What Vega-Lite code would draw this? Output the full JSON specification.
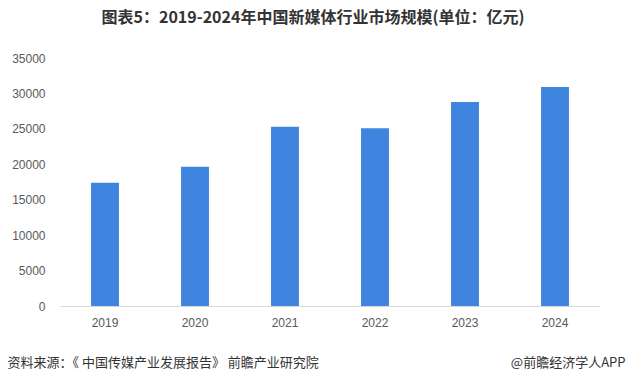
{
  "$schema": "https://vega.github.io/schema/vega-lite/v6.json",
  "width": 540,
  "height": 248,
  "autosize": "none",
  "padding": {"left": 60, "top": 58, "right": 26, "bottom": 76},
  "background": "white",
  "title": {
    "text": "图表5：2019-2024年中国新媒体行业市场规模(单位：亿元)",
    "font": "Noto Sans CJK SC",
    "fontSize": 16,
    "fontWeight": "bold",
    "color": "#333333",
    "anchor": "middle",
    "frame": "group",
    "offset": 26,
    "dx": -17
  },
  "data": {
    "values": [
      {"year": "2019", "value": 17400},
      {"year": "2020", "value": 19650},
      {"year": "2021", "value": 25300},
      {"year": "2022", "value": 25100},
      {"year": "2023", "value": 28800},
      {"year": "2024", "value": 30900}
    ]
  },
  "config": {
    "view": {"stroke": null},
    "font": "Noto Sans CJK SC"
  },
  "resolve": {"axis": {"x": "independent"}},
  "layer": [
    {
      "mark": {"type": "bar", "color": "#3f84df"},
      "encoding": {
        "x": {
          "field": "year",
          "type": "nominal",
          "scale": {"paddingInner": 0.69, "paddingOuter": 0.345},
          "axis": {
            "orient": "bottom",
            "title": "资料来源：《 中国传媒产业发展报告》 前瞻产业研究院",
            "titleFont": "Noto Sans CJK SC",
            "titleFontSize": 13,
            "titleFontWeight": "normal",
            "titleColor": "#333333",
            "titleAnchor": "start",
            "titleAlign": "left",
            "titleBaseline": "alphabetic",
            "titleX": -53,
            "titleY": 60,
            "labelAngle": 0,
            "labelFont": "Liberation Sans",
            "labelFontSize": 12,
            "labelColor": "#595959",
            "labelPadding": 11,
            "ticks": false,
            "domainColor": "#d9d9d9",
            "grid": false
          }
        },
        "y": {
          "field": "value",
          "type": "quantitative",
          "scale": {"domain": [0, 35000], "nice": false},
          "axis": {
            "title": null,
            "values": [0, 5000, 10000, 15000, 20000, 25000, 30000, 35000],
            "format": "d",
            "labelOverlap": false,
            "labelFont": "Liberation Sans",
            "labelFontSize": 12,
            "labelColor": "#595959",
            "labelPadding": 15,
            "ticks": false,
            "domain": false,
            "grid": false
          }
        }
      }
    },
    {
      "mark": {"type": "bar", "opacity": 0},
      "encoding": {
        "x": {
          "field": "year",
          "type": "nominal",
          "axis": {
            "orient": "bottom",
            "title": "@前瞻经济学人APP",
            "titleFont": "Noto Sans CJK SC",
            "titleFontSize": 13,
            "titleFontWeight": "normal",
            "titleColor": "#333333",
            "titleAnchor": "end",
            "titleAlign": "right",
            "titleBaseline": "alphabetic",
            "titleX": 565,
            "titleY": 60,
            "labels": false,
            "ticks": false,
            "domain": false,
            "grid": false
          }
        }
      }
    }
  ]
}
